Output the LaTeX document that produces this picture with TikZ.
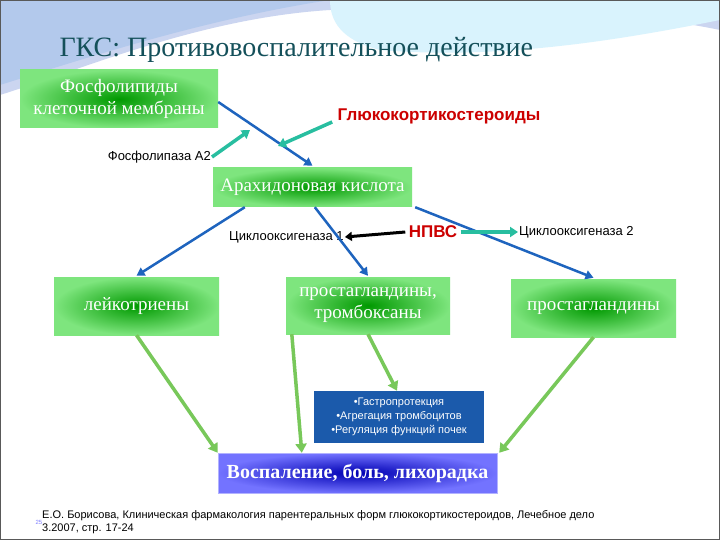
\documentclass[tikz,border=0pt]{standalone}
\usepackage{fontspec}
\setmainfont{Liberation Serif}
\newfontfamily\sans{Liberation Sans}
\usetikzlibrary{arrows.meta,calc}
\definecolor{tealA}{RGB}{40,190,160}
\definecolor{blueA}{RGB}{30,100,190}
\definecolor{greenA}{RGB}{120,200,90}
\definecolor{titleC}{RGB}{20,80,90}
\tikzset{
 gbox/.style={draw=none,inner color=green!60!black,outer color=green!45!white!90!black,
   text=white,align=center,font=\fontsize{19}{22}\selectfont,inner sep=0pt},
 barrow/.style={draw=blueA,line width=2.5pt,-{Triangle[length=8pt,width=9pt]}},
 garrow/.style={draw=greenA,line width=3.5pt,-{Triangle[length=9pt,width=11pt]}},
 tarrow/.style={draw=tealA,line width=3.5pt,-{Triangle[length=8pt,width=10pt]}},
 karrow/.style={draw=black,line width=3pt,-{Triangle[length=7pt,width=9pt]}},
 lab/.style={font=\sans\fontsize{13}{15}\selectfont,inner sep=1pt},
}
\begin{document}
\begin{tikzpicture}[x=1pt,y=-1pt]
\useasboundingbox (0,0) rectangle (720,540);
\fill[white] (0,0) rectangle (720,540);
% top wave decoration
\fill[cyan!45!blue!20] (0,0) -- (720,0) -- (720,30) .. controls (600,5) and (420,5) .. (330,10) .. controls (200,18) and (80,70) .. (0,95) -- cycle;
\fill[cyan!15] (330,0) -- (720,0) -- (720,20) .. controls (620,40) and (500,60) .. (380,50) .. controls (340,40) and (330,20) .. (330,0) -- cycle;
\fill[cyan!55!blue!30] (0,0) -- (330,0) .. controls (200,20) and (80,60) .. (0,85) -- cycle;
\draw[gray!70!black,line width=0.6pt] (0.5,0.5) rectangle (719.5,539.5);
\node[text=titleC,font=\fontsize{28}{30}\selectfont,anchor=west] (title) at (56,50) {ГКС: Противовоспалительное действие};
% boxes
\node[gbox,minimum width=198,minimum height=58] (fos) at (119,99) {Фосфолипиды\\клеточной мембраны};
\node[gbox,minimum width=199,minimum height=39] (ara) at (312.5,187.5) {Арахидоновая кислота};
\node[gbox,minimum width=165,minimum height=58] (leu) at (136.5,306) {лейкотриены};
\node[gbox,minimum width=164,minimum height=57] (pgt) at (368,305.5) {простагландины,\\тромбоксаны};
\node[gbox,minimum width=165,minimum height=58] (pg) at (593.5,308) {простагландины};
\node[fill=blueA!90!black,text=white,minimum width=170,minimum height=52,inner sep=0pt,align=center,font=\sans\fontsize{11}{14}\selectfont] (list) at (399,417) {•Гастропротекция\\•Агрегация тромбоцитов\\•Регуляция функций почек};
\node[draw=blue!30,inner color=blue!70!black,outer color=blue!55,text=white,minimum width=279,minimum height=40,inner sep=0pt,font=\bfseries\fontsize{20}{22}\selectfont] (inf) at (357.5,473) {Воспаление, боль, лихорадка};
% labels
\node[font=\sans\bfseries\fontsize{17}{19}\selectfont,text=red!80!black] (gkc) at (439,116) {Глюкокортикостероиды};
\node[lab,anchor=east] (pla) at (212,157) {Фосфолипаза А2};
\node[lab,anchor=west] (cox1) at (228,237) {Циклооксигеназа 1};
\node[font=\sans\bfseries\fontsize{17}{19}\selectfont,text=red!80!black] (nsaid) at (433,232) {НПВС};
\node[lab,anchor=west] (cox2) at (518,232) {Циклооксигеназа 2};
\node[font=\sans\fontsize{11}{13}\selectfont,anchor=north west,align=left,inner sep=0pt] (ref) at (42,510) {Е.О. Борисова, Клиническая фармакология парентеральных форм глюкокортикостероидов, Лечебное дело\\3.2007, стр. 17-24};
\node[font=\sans\fontsize{6}{7}\selectfont,text=blue!50,inner sep=0pt] (num) at (39,522) {25};
% blue arrows
\draw[barrow] ($(fos.east)+(0,3)$) -- ($(ara.north)+(0,-2)$);
\draw[barrow] ($(ara.south west)+(32,0)$) -- ($(leu.north)+(0,-1)$);
\draw[barrow] ($(ara.south west)+(102,0)$) -- ($(pgt.north)+(0,-1)$);
\draw[barrow] ($(ara.south east)+(3,0)$) -- ($(pg.north)+(0,-1)$);
% teal / black arrows
\draw[tarrow] (pla.east) -- (250,130);
\draw[tarrow] ($(gkc.west)+(-2,6)$) -- (278,146);
\draw[karrow] (nsaid.west) -- (cox1.east);
\draw[tarrow] (nsaid.east) -- (cox2.west);
% green arrows
\draw[garrow] (leu.south) -- ($(inf.north west)+(0,0)$);
\draw[garrow] ($(pgt.south west)+(6,0)$) -- ($(inf.north west)+(84,0)$);
\draw[garrow] (pgt.south) -- ($(list.north)+(-2,0)$);
\draw[garrow] (pg.south) -- ($(inf.north east)+(2,0)$);
\end{tikzpicture}
\end{document}
